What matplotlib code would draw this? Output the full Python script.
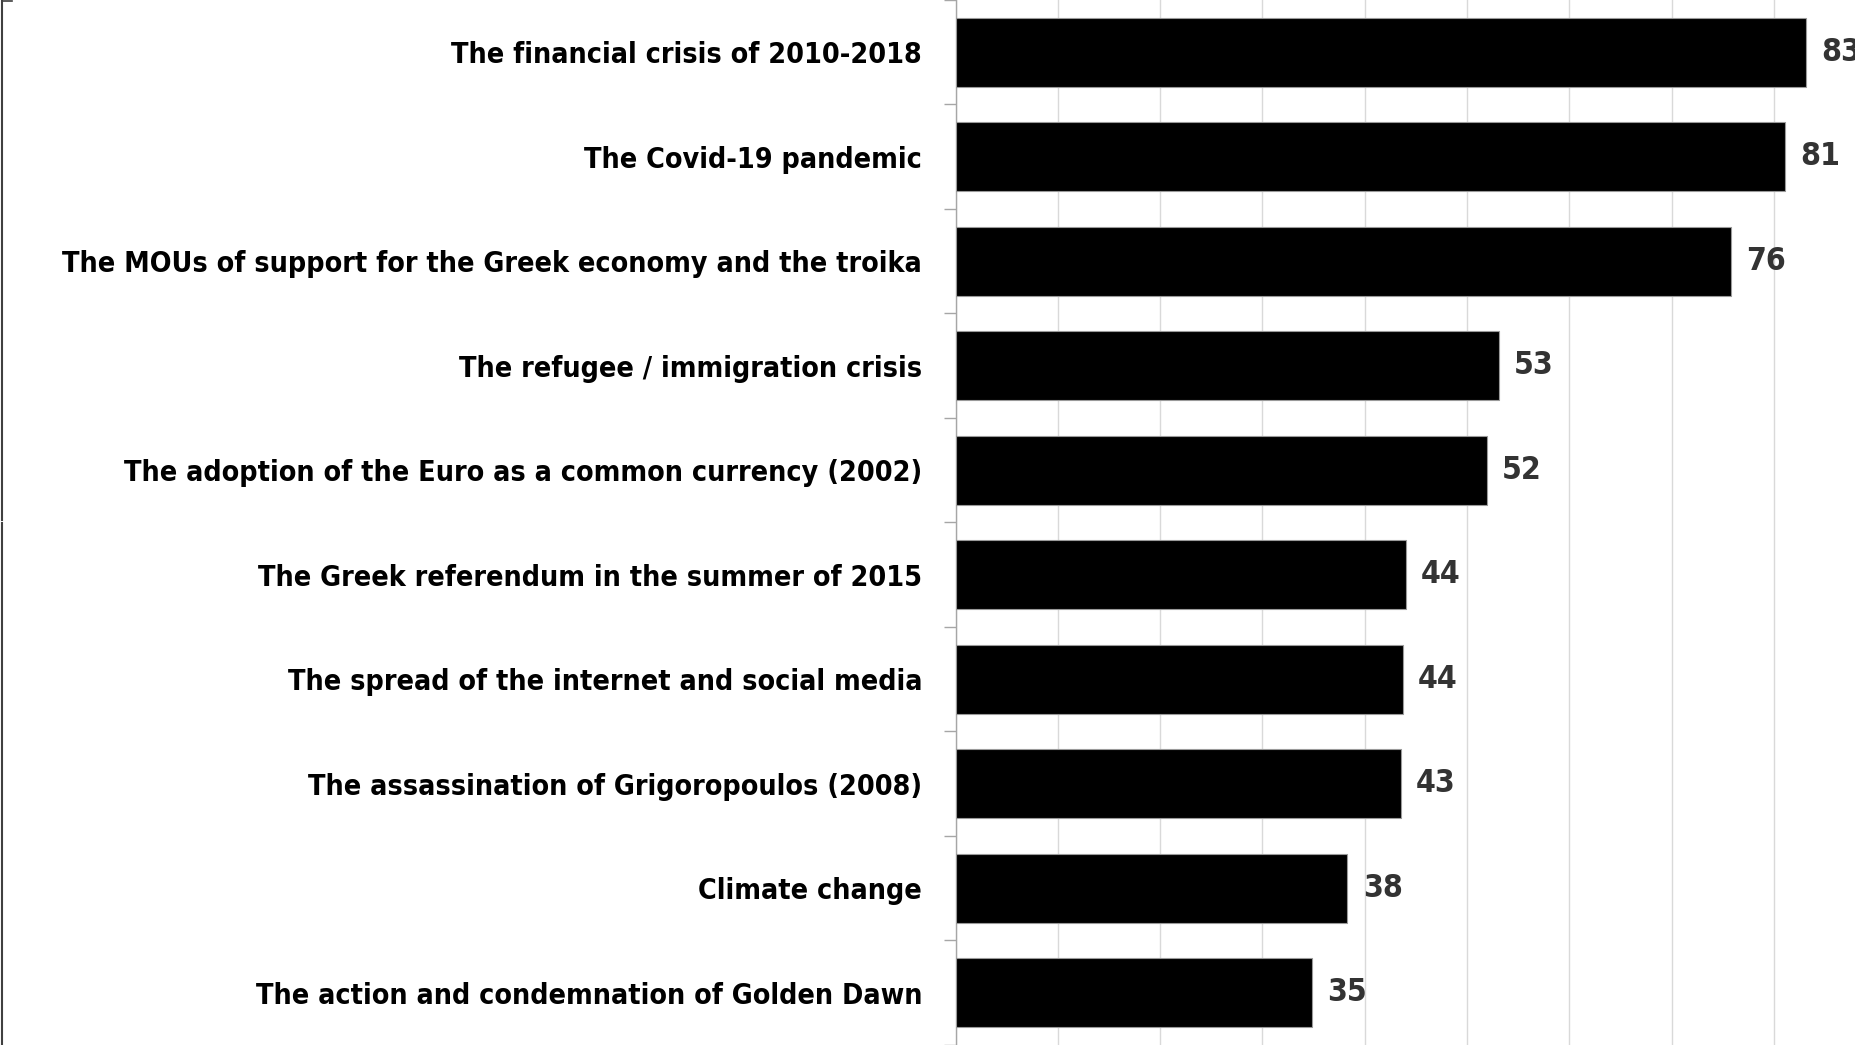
import matplotlib.pyplot as plt
from matplotlib import font_manager
from matplotlib.lines import Line2D

# Data
categories = [
    'The financial crisis of 2010-2018',
    'The Covid-19 pandemic',
    'The MOUs of support for the Greek economy and the troika',
    'The refugee / immigration crisis',
    'The adoption of the Euro as a common currency (2002)',
    'The Greek referendum in the summer of 2015',
    'The spread of the internet and social media',
    'The assassination of Grigoropoulos (2008)',
    'Climate change',
    'The action and condemnation of Golden Dawn',
]
values = [83.1, 81.1, 75.8, 53.1, 51.9, 44.0, 43.7, 43.5, 38.3, 34.8]
value_labels = ['83', '81', '76', '53', '52', '44', '44', '43', '38', '35']

# pick a narrow font if there is one
names = {f.name for f in font_manager.fontManager.ttflist}
stretch = 'normal'
if 'Liberation Sans Narrow' in names:
    fam = ['Liberation Sans Narrow', 'DejaVu Sans']
else:
    fam = ['DejaVu Sans']
    stretch = 'condensed'

fig = plt.figure(figsize=(18.56, 10.45), dpi=100)
ax = fig.add_axes([955.5 / 1856, 0, 1 - 955.5 / 1856, 1])

ypos = list(range(len(categories)))
ax.barh(ypos, values, height=0.656, color='black', edgecolor='#9a9a9a',
        linewidth=0.8, zorder=3)

ax.set_ylim(len(categories) - 0.5, -0.5)
ax.set_xlim(0, 88.0)

# gridlines every 10
ax.set_xticks(range(0, 90, 10))
ax.xaxis.grid(True, color='#d9d9d9', linewidth=1.0, zorder=0)
ax.tick_params(axis='x', length=0, labelbottom=False)

# size the labels so the longest one is as wide as in the reference
r = fig.canvas.get_renderer()
probe = fig.text(0, 0, categories[2], family=fam, fontweight='bold',
                 fontstretch=stretch, fontsize=25)
w = probe.get_window_extent(r).width
probe.remove()
fs = min(25 * 861 / w, 26)

ax.set_yticks(ypos)
ax.set_yticklabels(categories, family=fam, fontweight='bold',
                   fontstretch=stretch, fontsize=fs)
ax.tick_params(axis='y', which='major', length=0, pad=24)
ax.set_yticks([i - 0.5 for i in range(len(categories) + 1)], minor=True)
ax.tick_params(axis='y', which='minor', length=8.5, width=1.0, color='#a6a6a6')

for s in ['top', 'right', 'bottom']:
    ax.spines[s].set_visible(False)
ax.spines['left'].set_color('#a6a6a6')
ax.spines['left'].set_linewidth(1.0)

# value labels
for y, v, lab in zip(ypos, values, value_labels):
    ax.annotate(lab, xy=(v, y), xytext=(11, 0), textcoords='offset points',
                va='center', ha='left', family=fam, fontweight='bold',
                fontstretch=stretch, fontsize=fs * 1.12, color='#333333',
                annotation_clip=False)

# left frame edge of the cropped slide
W, H = 1856, 1045
fig.add_artist(Line2D([2 / W, 2 / W], [1, 1 - 520 / H], transform=fig.transFigure,
                      color='#404040', linewidth=1.5))
fig.add_artist(Line2D([2 / W, 2 / W], [1 - 523 / H, 0], transform=fig.transFigure,
                      color='#404040', linewidth=1.5))
fig.add_artist(Line2D([2 / W, 12 / W], [1 - 1 / H, 1 - 1 / H], transform=fig.transFigure,
                      color='#404040', linewidth=1.2))

fig.savefig('out.png', dpi=100)
